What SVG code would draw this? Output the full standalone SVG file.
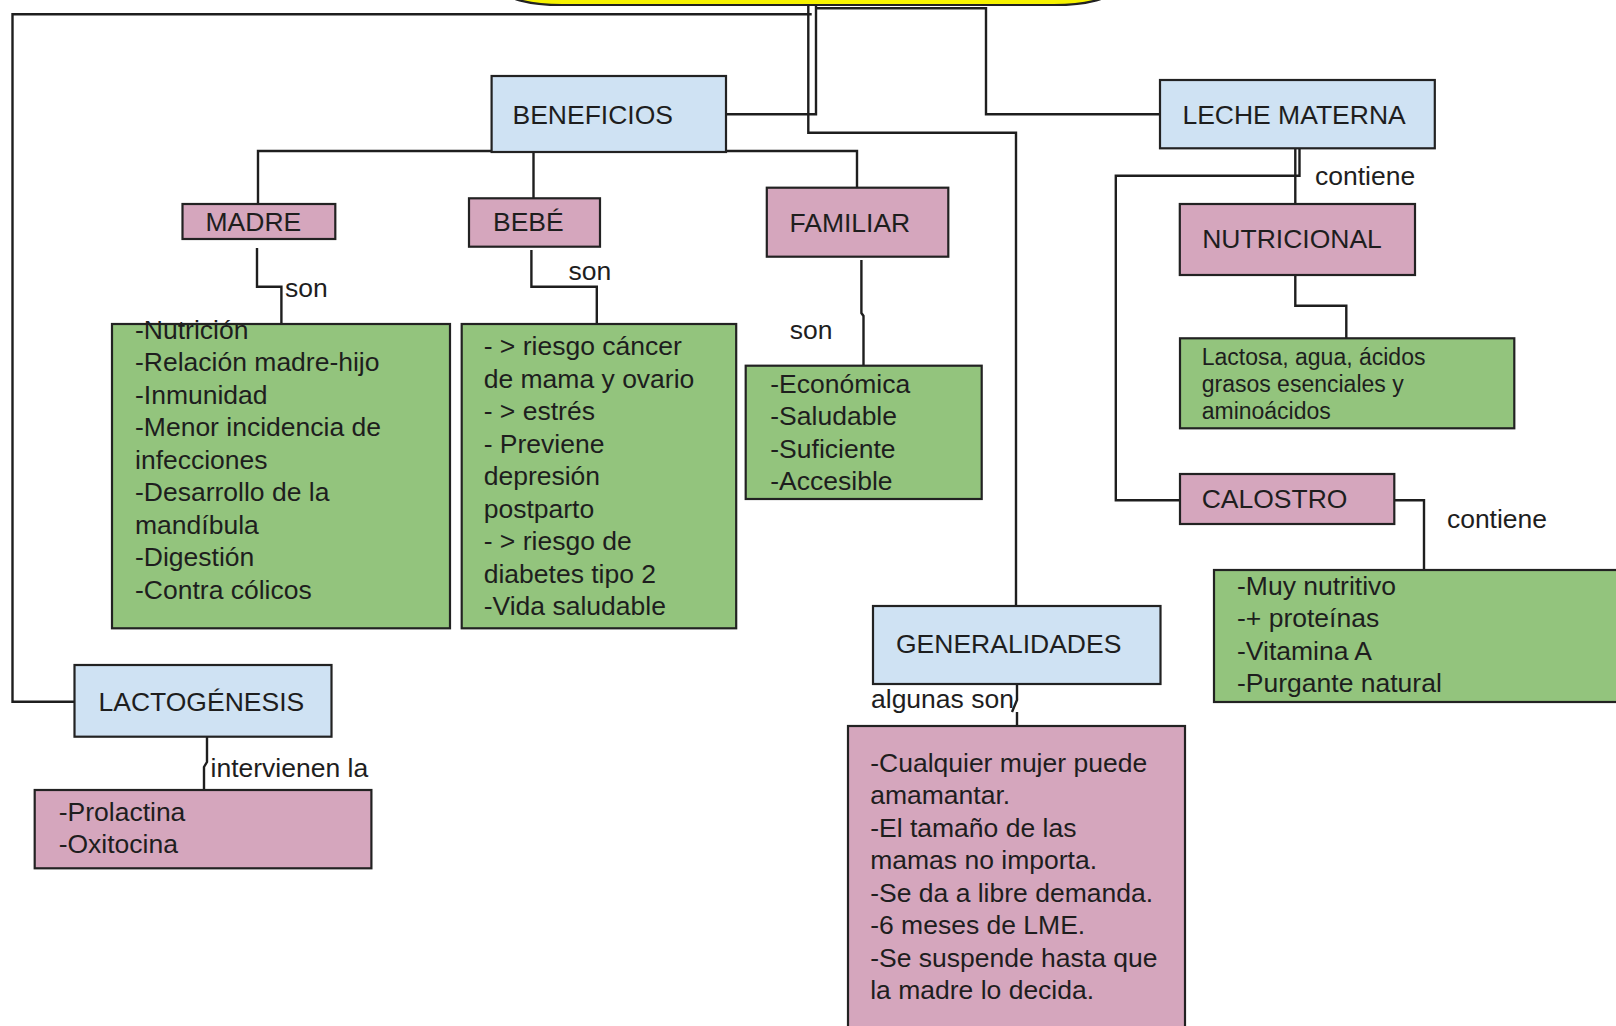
<svg xmlns="http://www.w3.org/2000/svg" width="1616" height="1026" viewBox="0 0 1616 1026">
<style>
text{font-family:"Liberation Sans",Arial,sans-serif;font-size:26.5px;fill:#1e1e1e}
.sm{font-size:23px}
.box{stroke:#222;stroke-width:2.2}
.blue{fill:#cfe2f3}
.pink{fill:#d5a6bd}
.green{fill:#93c47d}
.conn path{fill:none;stroke:#1e1e1e;stroke-width:2.4;stroke-linejoin:miter}
</style>
<rect width="1616" height="1026" fill="#ffffff"/>
<g id="title"><rect class="box" x="502" y="-40" width="612" height="45" rx="60" ry="16" fill="#f7f300"/></g>
<g class="conn" id="connectors">
<path d="M811.7,14.3 H12.5 V701.7 H74.5"/>
<path d="M808.3,5 V132.7 H1016 V606"/>
<path d="M816,5 V114.3 H726"/>
<path d="M816,8.3 H986 V114.3 H1160"/>
<path d="M258,204 V151 H857 V187.7"/>
<path d="M533.5,151 V198.3"/>
<path d="M257,248 V286.7 H281.4 V324"/>
<path d="M531.4,250 V286.7 H596.8 V324"/>
<path d="M861.4,260 V313 L863.5,316 V365.7"/>
<path d="M1295.3,145 V204"/>
<path d="M1299.5,145 V175.7 H1115.8 V500.3 H1180"/>
<path d="M1295.3,275 V305.7 H1346.3 V338.3"/>
<path d="M1394.3,500.3 H1424 V570"/>
<path d="M1017,684 V700 L1012,712 M1017,712 V726"/>
<path d="M207,732 V762 L204,767 V790"/>
</g>
<g id="beneficios"><rect class="box blue" x="491.6" y="76" width="234.4" height="76"/><text x="512.5" y="124">BENEFICIOS</text></g>
<g id="leche-materna"><rect class="box blue" x="1160" y="80" width="274.8" height="68.3"/><text x="1182.4" y="124">LECHE MATERNA</text></g>
<g id="madre"><rect class="box pink" x="182.5" y="204" width="152.8" height="35"/><text x="205.5" y="231">MADRE</text></g>
<g id="bebe"><rect class="box pink" x="469" y="198.3" width="131" height="48.4"/><text x="493" y="231">BEBÉ</text></g>
<g id="familiar"><rect class="box pink" x="766.8" y="187.7" width="181.5" height="69"/><text x="789.5" y="231.5">FAMILIAR</text></g>
<g id="nutricional"><rect class="box pink" x="1179.8" y="204" width="235.2" height="71"/><text x="1202.2" y="248.3">NUTRICIONAL</text></g>
<g id="madre-son"><text x="285" y="296.7">son</text></g>
<g id="bebe-son"><text x="568.5" y="280">son</text></g>
<g id="familiar-son"><text x="789.7" y="339">son</text></g>
<g id="leche-contiene"><text x="1315" y="185">contiene</text></g>
<g id="madre-lista"><rect class="box green" x="112" y="324" width="338" height="304.3"/>
<text x="135" y="338.5"><tspan x="135">-Nutrición</tspan><tspan x="135" dy="32.5">-Relación madre-hijo</tspan><tspan x="135" dy="32.5">-Inmunidad</tspan><tspan x="135" dy="32.5">-Menor incidencia de</tspan><tspan x="135" dy="32.5">infecciones</tspan><tspan x="135" dy="32.5">-Desarrollo de la</tspan><tspan x="135" dy="32.5">mandíbula</tspan><tspan x="135" dy="32.5">-Digestión</tspan><tspan x="135" dy="32.5">-Contra cólicos</tspan></text></g>
<g id="bebe-lista"><rect class="box green" x="461.7" y="324" width="274.5" height="304.3"/>
<text x="483.7" y="355"><tspan x="483.7">- &gt; riesgo cáncer</tspan><tspan x="483.7" dy="32.5">de mama y ovario</tspan><tspan x="483.7" dy="32.5">- &gt; estrés</tspan><tspan x="483.7" dy="32.5">- Previene</tspan><tspan x="483.7" dy="32.5">depresión</tspan><tspan x="483.7" dy="32.5">postparto</tspan><tspan x="483.7" dy="32.5">- &gt; riesgo de</tspan><tspan x="483.7" dy="32.5">diabetes tipo 2</tspan><tspan x="483.7" dy="32.5">-Vida saludable</tspan></text></g>
<g id="familiar-lista"><rect class="box green" x="745.7" y="365.7" width="236" height="133.3"/>
<text x="770.3" y="393"><tspan x="770.3">-Económica</tspan><tspan x="770.3" dy="32.4">-Saludable</tspan><tspan x="770.3" dy="32.4">-Suficiente</tspan><tspan x="770.3" dy="32.4">-Accesible</tspan></text></g>
<g id="nutricional-lista"><rect class="box green" x="1180" y="338.3" width="334.3" height="90"/>
<text class="sm" x="1201.7" y="364.5"><tspan x="1201.7">Lactosa, agua, ácidos</tspan><tspan x="1201.7" dy="27.3">grasos esenciales y</tspan><tspan x="1201.7" dy="27.3">aminoácidos</tspan></text></g>
<g id="calostro"><rect class="box pink" x="1180" y="474" width="214.3" height="50"/><text x="1201.7" y="508.3">CALOSTRO</text></g>
<g id="calostro-contiene"><text x="1446.9" y="528.3">contiene</text></g>
<g id="calostro-lista"><rect class="box green" x="1214" y="570" width="420" height="132"/>
<text x="1237" y="595"><tspan x="1237">-Muy nutritivo</tspan><tspan x="1237" dy="32.3">-+ proteínas</tspan><tspan x="1237" dy="32.3">-Vitamina A</tspan><tspan x="1237" dy="32.3">-Purgante natural</tspan></text></g>
<g id="generalidades"><rect class="box blue" x="873" y="606" width="287.5" height="78"/><text x="896" y="653.3">GENERALIDADES</text></g>
<g id="generalidades-label"><text x="871" y="708.3">algunas son</text></g>
<g id="generalidades-lista"><rect class="box pink" x="848" y="726" width="337" height="330"/>
<text x="870.2" y="771.7"><tspan x="870.2">-Cualquier mujer puede</tspan><tspan x="870.2" dy="32.5">amamantar.</tspan><tspan x="870.2" dy="32.5">-El tamaño de las</tspan><tspan x="870.2" dy="32.5">mamas no importa.</tspan><tspan x="870.2" dy="32.5">-Se da a libre demanda.</tspan><tspan x="870.2" dy="32.5">-6 meses de LME.</tspan><tspan x="870.2" dy="32.5">-Se suspende hasta que</tspan><tspan x="870.2" dy="32.5">la madre lo decida.</tspan></text></g>
<g id="lactogenesis"><rect class="box blue" x="74.5" y="665" width="257" height="71.7"/><text x="98.5" y="710.7">LACTOGÉNESIS</text></g>
<g id="lactogenesis-label"><text x="210.5" y="777.3">intervienen la</text></g>
<g id="lactogenesis-lista"><rect class="box pink" x="34.7" y="790" width="336.7" height="78.3"/>
<text x="58.7" y="821"><tspan x="58.7">-Prolactina</tspan><tspan x="58.7" dy="31.7">-Oxitocina</tspan></text></g>
</svg>
